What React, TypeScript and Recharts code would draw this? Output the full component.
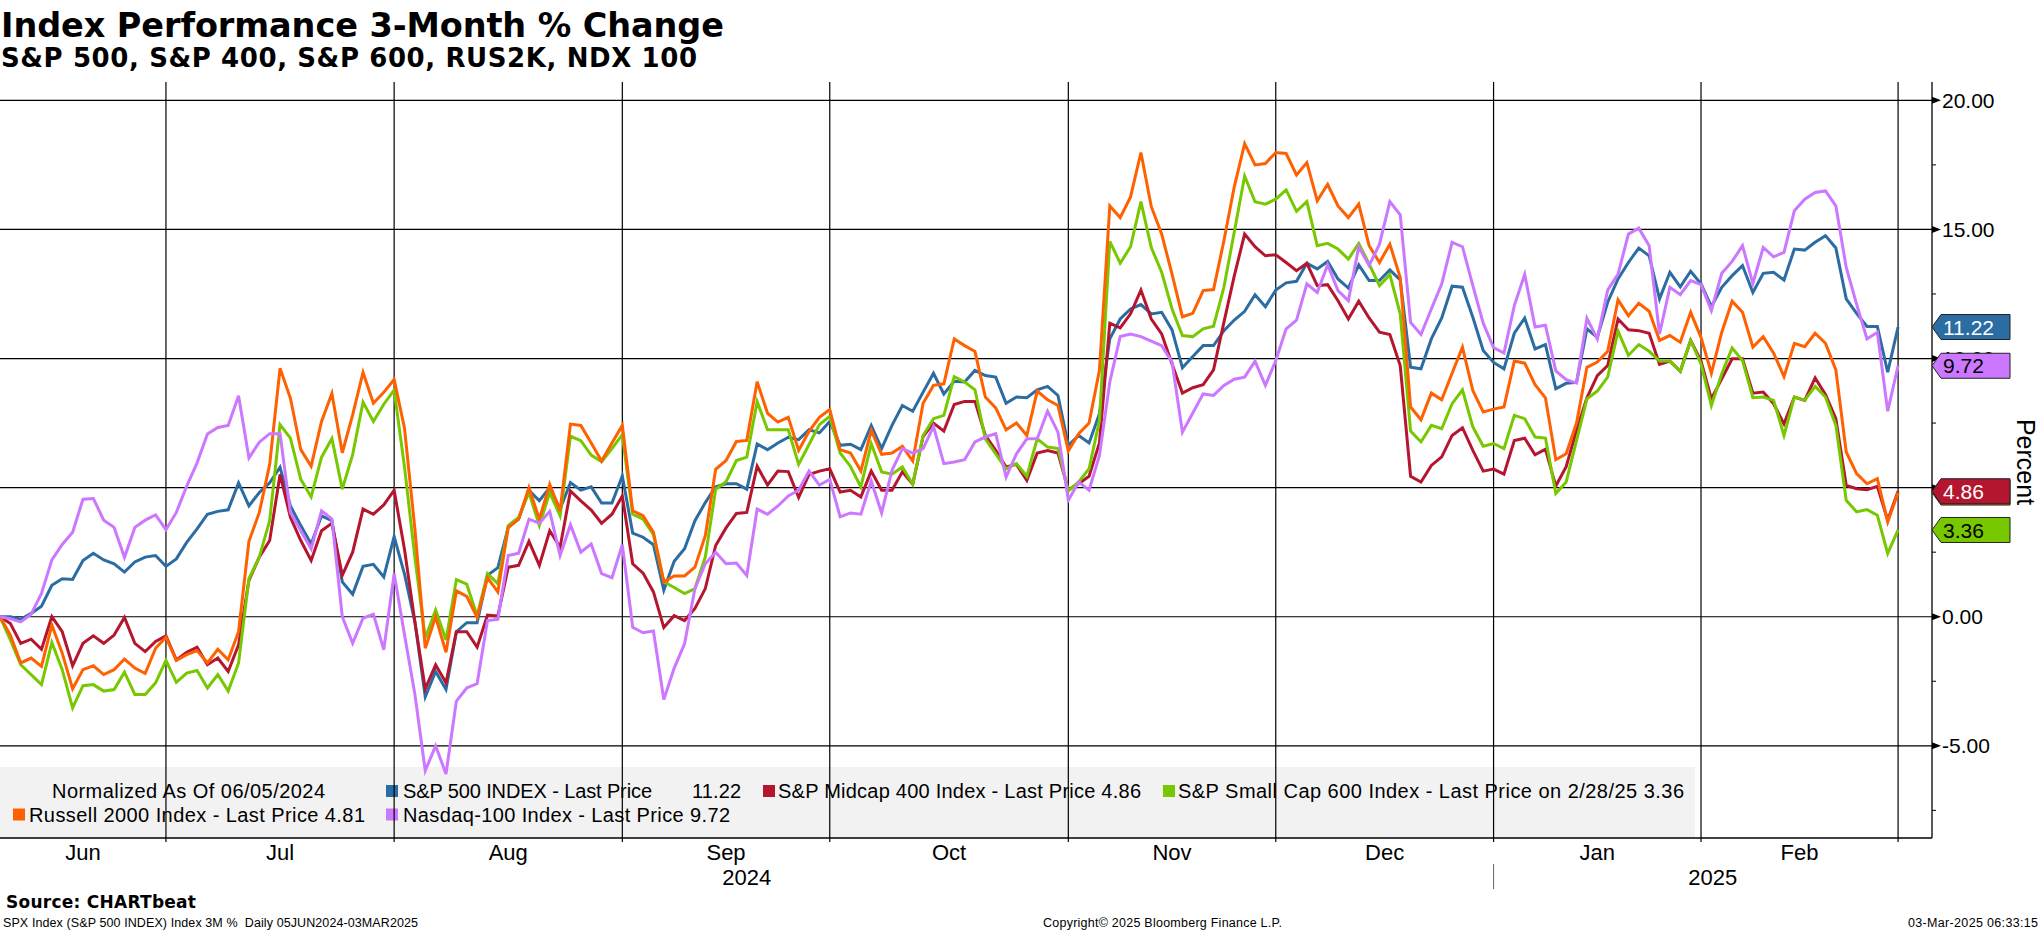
import React from "react";
import { LineChart, Line, XAxis, YAxis, ReferenceLine } from "recharts";

// 3-month % change, normalized as of 06/05/2024, one value per trading day (Jun 5 2024 .. Feb 28 2025)
const spx = [
  0, 0, -0.1, 0.13, 0.41, 1.22, 1.47, 1.44, 2.18, 2.46, 2.2, 2.05, 1.73, 2.12, 2.31, 2.37, 1.95,
  2.24, 2.88, 3.4, 3.97, 4.08, 4.14, 5.18, 4.29, 4.81, 5.19, 5.79, 4.29, 3.53, 2.82, 3.91, 3.72, 1.35, 0.87, 1.95, 2.03, 1.54, 3.1,
  1.65, -0.2, -3.1, -2.12, -2.82, -0.58, -0.23, -0.23, 1.6, 1.9, 3.46, 3.78, 4.9, 4.49, 5.0, 4.17, 5.19, 4.9, 5.03, 4.4, 4.4, 5.45,
  3.24, 3.08, 2.79, 1.03, 2.15, 2.63, 3.72, 4.42, 5.03, 5.15, 5.15, 4.94, 6.69, 6.47, 6.73, 6.95, 6.86, 7.24, 7.12, 7.56,
  6.64, 6.68, 6.47, 7.41, 6.51, 7.41, 8.18, 7.96, 8.7, 9.43, 8.63, 9.12, 9.09, 9.54, 9.34, 9.28, 8.27, 8.51, 8.48, 8.79, 8.92, 8.57, 6.64,
  7.02, 6.73, 7.86, 10.76, 11.53, 11.92, 12.09, 11.73, 11.79, 11.11, 9.64, 10.08, 10.5, 10.5, 11.08, 11.49, 11.83, 12.47, 12.01, 12.65,
  12.93, 12.99, 13.69, 13.47, 13.76, 13.08, 12.73, 13.63, 13.02, 13.02, 13.43, 13.04, 9.66, 9.6, 10.76, 11.57, 12.8, 12.76, 11.6, 10.31, 9.85,
  9.6, 10.98, 11.57, 10.37, 10.54, 8.83, 9.04, 9.08, 11.15, 10.82, 12.18, 13.08, 13.72, 14.28, 13.98, 12.31, 13.34, 12.78, 13.38, 12.89,
  12.01, 12.76, 13.21, 13.6, 12.56, 13.3, 13.34, 13.04, 14.24, 14.2, 14.5, 14.76, 14.28, 12.31, 11.75, 11.24, 11.24, 9.47, 11.22,
];

const mid = [
  0, -0.26, -1.03, -0.87, -1.26, 0, -0.58, -1.9, -1.03, -0.74, -1.03, -0.71, -0.03, -1.03, -1.35, -0.96, -0.74,
  -1.67, -1.38, -1.18, -1.86, -1.6, -2.12, -1.09, 1.41, 2.31, 2.95, 5.51, 3.85, 2.95, 2.18, 3.33, 3.62, 1.6, 2.5, 4.17, 3.97, 4.33, 4.9,
  2.6, -0.2, -2.79, -1.86, -2.56, -0.58, -0.58, -1.18, 0.06, 0.03, 1.92, 1.99, 2.92, 1.99, 3.33, 2.69, 4.87, 4.49, 4.13, 3.62, 3.97, 4.68,
  2.05, 1.69, 0.96, -0.42, 0.04, -0.15, 0.32, 1.09, 2.76, 3.44, 4.0, 4.04, 5.83, 5.1, 5.64, 5.62, 4.62, 5.51, 5.64, 5.73,
  4.83, 4.9, 4.64, 5.64, 4.9, 4.9, 5.61, 5.13, 6.98, 7.5, 7.19, 8.22, 8.34, 8.34, 7.02, 6.44, 5.8, 5.9, 5.28, 6.34, 6.44, 6.34, 4.92,
  5.15, 5.44, 6.73, 11.37, 11.19, 11.73, 12.65, 11.53, 10.95, 9.79, 8.66, 8.87, 8.99, 9.56, 11.4, 13.2, 14.82, 14.33, 13.98, 14.02,
  13.72, 13.4, 13.69, 12.82, 12.86, 12.24, 11.53, 12.22, 11.57, 11.02, 10.93, 9.73, 5.44, 5.22, 5.86, 6.19, 7.02, 7.32, 6.44, 5.64, 5.72,
  5.52, 6.82, 6.91, 6.27, 6.49, 5.06, 5.81, 7.22, 8.48, 9.34, 9.73, 11.53, 11.11, 11.08, 10.98, 9.77, 9.9, 9.51, 10.7, 9.9,
  8.44, 9.21, 9.99, 9.99, 8.66, 8.7, 8.25, 7.47, 8.51, 8.38, 9.25, 8.61, 7.67, 5.09, 4.96, 4.92, 5.05, 3.74, 4.86,
];

const small = [
  0, -0.9, -1.86, -2.24, -2.63, -1.0, -2.05, -3.53, -2.67, -2.63, -2.88, -2.82, -2.15, -3.01, -3.01, -2.56, -1.69,
  -2.54, -2.18, -2.08, -2.76, -2.24, -2.88, -1.79, 1.47, 2.31, 3.72, 7.44, 6.92, 5.32, 4.64, 6.18, 6.9, 4.94, 6.28, 8.31, 7.56, 8.23, 8.78,
  5.8, 2.3, -0.83, 0.26, -0.9, 1.44, 1.26, 0.03, 1.67, 1.28, 3.53, 3.85, 4.81, 3.53, 4.81, 3.91, 6.99, 6.82, 6.26, 6.0, 6.51, 7.05,
  3.97, 3.78, 3.18, 1.35, 1.13, 0.9, 1.09, 2.31, 4.94, 5.23, 6.05, 6.18, 8.33, 7.24, 7.24, 7.24, 5.9, 6.67, 7.44, 7.76,
  6.34, 5.82, 5.03, 6.7, 5.61, 5.52, 5.8, 5.13, 7.02, 7.67, 7.8, 9.3, 9.09, 8.79, 6.89, 6.31, 5.73, 5.93, 5.44, 6.89, 6.57, 6.51, 4.87,
  5.22, 5.73, 7.6, 14.54, 13.69, 14.33, 16.08, 14.3, 13.34, 11.92, 10.89, 10.85, 11.15, 11.25, 12.76, 14.9, 17.07, 16.07, 15.98, 16.17,
  16.53, 15.7, 16.08, 14.37, 14.46, 14.24, 13.85, 14.46, 13.66, 12.82, 13.25, 11.73, 7.19, 6.77, 7.41, 7.28, 8.25, 8.79, 7.35, 6.6, 6.71,
  6.51, 7.8, 7.67, 6.96, 6.92, 4.77, 5.22, 6.83, 8.44, 8.74, 9.28, 11.06, 10.12, 10.54, 10.28, 9.9, 9.9, 9.51, 10.7, 9.79,
  8.18, 9.41, 10.41, 9.92, 8.48, 8.51, 8.38, 7.02, 8.51, 8.38, 8.92, 8.51, 7.41, 4.51, 4.06, 4.15, 3.93, 2.45, 3.36,
];

const rus = [
  0, -0.71, -1.79, -1.6, -1.92, -0.32, -1.41, -2.79, -2.05, -1.9, -2.24, -2.05, -1.64, -1.99, -2.2, -1.22, -0.79,
  -1.69, -1.47, -1.31, -1.79, -1.26, -1.67, -0.58, 2.92, 4.04, 5.9, 9.62, 8.46, 6.47, 5.83, 7.56, 8.65, 6.35, 7.82, 9.46, 8.27, 8.69, 9.19,
  7.3, 3.4, -1.22, 0, -1.38, 1.0, 0.79, -0.03, 1.51, 0.96, 3.46, 3.78, 5.0, 3.78, 5.13, 4.1, 7.46, 7.41, 6.73, 6.03, 6.73, 7.41,
  4.1, 3.91, 3.27, 1.35, 1.58, 1.58, 1.92, 3.14, 5.71, 6.05, 6.79, 6.83, 9.1, 7.88, 7.54, 7.72, 6.44, 7.18, 7.72, 8.02,
  6.47, 6.34, 5.64, 7.22, 6.29, 6.34, 6.6, 6.03, 8.27, 8.96, 9.02, 10.76, 10.5, 10.27, 8.51, 8.09, 7.24, 7.5, 7.02, 8.74, 8.4, 8.18, 6.42,
  7.09, 7.5, 9.54, 15.91, 15.46, 16.26, 17.98, 15.88, 14.82, 13.27, 11.62, 11.75, 12.63, 12.67, 14.56, 16.65, 18.32, 17.5, 17.55, 17.98,
  17.94, 17.11, 17.59, 16.11, 16.75, 15.91, 15.46, 15.98, 14.37, 13.72, 14.43, 13.14, 8.12, 7.63, 8.66, 8.4, 9.43, 10.44, 8.76, 7.93, 8.04,
  8.12, 9.9, 9.82, 8.99, 8.48, 6.08, 6.31, 7.5, 9.66, 9.86, 10.28, 12.27, 11.66, 12.14, 11.83, 10.7, 10.89, 10.63, 11.79, 10.82,
  9.43, 11.02, 12.22, 11.79, 10.44, 10.85, 10.21, 9.3, 10.59, 10.46, 10.98, 10.59, 9.56, 6.38, 5.54, 5.15, 5.35, 3.67, 4.81,
];

const ndx = [
  0, -0.08, -0.2, 0.1, 0.9, 2.2, 2.8, 3.27, 4.55, 4.58, 3.74, 3.46, 2.3, 3.46, 3.74, 3.94, 3.37,
  4.04, 5.06, 5.96, 7.08, 7.33, 7.41, 8.56, 6.15, 6.76, 7.09, 7.09, 4.04, 3.33, 2.63, 4.1, 3.78, 0, -1.03, -0.06, 0.1, -1.28, 1.67,
  -0.7, -3.0, -5.96, -5.0, -6.09, -3.27, -2.76, -2.59, -0.15, -0.1, 2.37, 2.46, 3.78, 3.62, 4.08, 2.37, 3.56, 2.5, 2.82, 1.67, 1.51, 2.79,
  -0.41, -0.62, -0.55, -3.21, -1.99, -1.05, 1.09, 2.05, 2.5, 2.05, 2.08, 1.6, 4.17, 3.97, 4.29, 4.68, 4.9, 5.64, 5.1, 5.32,
  3.87, 4.02, 3.97, 5.26, 4.02, 5.67, 6.51, 6.34, 6.51, 7.37, 5.93, 5.99, 6.08, 6.77, 6.96, 7.09, 5.41, 6.31, 6.89, 6.89, 7.96, 7.15, 4.51,
  5.22, 4.9, 6.25, 9.09, 10.85, 10.95, 10.85, 10.67, 10.5, 9.86, 7.15, 7.89, 8.63, 8.57, 8.96, 9.2, 9.28, 9.9, 8.96, 9.92,
  11.15, 11.49, 12.89, 12.56, 13.63, 12.63, 12.24, 14.33, 13.6, 14.43, 16.08, 15.57, 11.4, 10.93, 11.92, 12.89, 14.5, 14.33, 12.82, 11.37, 10.42,
  10.21, 12.05, 13.26, 11.22, 11.29, 9.52, 9.18, 9.05, 11.56, 10.76, 12.65, 13.27, 14.82, 15.05, 14.37, 10.95, 12.76, 12.47, 13.02, 12.86,
  11.86, 13.3, 13.76, 14.37, 12.91, 14.3, 13.94, 14.11, 15.72, 16.17, 16.43, 16.49, 15.91, 13.53, 12.11, 10.76, 11.02, 7.96, 9.72,
];

// trading-day index of the last session of each month (Jun 2024 .. Feb 2025)
const monthEnds = [16, 38, 60, 80, 103, 123, 144, 164, 183];
const monthNames = ["Jun", "Jul", "Aug", "Sep", "Oct", "Nov", "Dec", "Jan", "Feb"];
const yearNames = ["2024", "2025"];
const yearBreak = 144;
const xMax = 186.27;
const yMin = -8.57;
const yMax = 20.71;
const yTicks = [-5, 0, 5, 10, 15, 20];
const yMinor = [-7.5, -2.5, 2.5, 7.5, 12.5, 17.5];

const monthMid = monthEnds.map((e, k) => ((k === 0 ? 0 : monthEnds[k - 1]) + e) / 2);
const yearMid = [yearBreak / 2, (yearBreak + xMax) / 2];
const xTicks = [...monthEnds, ...monthMid, ...yearMid].sort((a, b) => a - b);

const W = 2041;
const H = 932;
const FONT = "'Liberation Sans', Arial, sans-serif";
const BOLD = "'DejaVu Sans', Verdana, sans-serif";

const series = [
  { key: "spx", color: "#2b6ca3", ink: "#fff", values: spx },
  { key: "mid", color: "#b5162f", ink: "#fff", values: mid },
  { key: "small", color: "#77c800", ink: "#000", values: small },
  { key: "rus", color: "#ff6000", ink: "#fff", values: rus },
  { key: "ndx", color: "#cc77ff", ink: "#000", values: ndx },
];
// last-value tags on the right axis, drawn after the axis labels (later ones on top)
const tagOrder = ["rus", "mid", "spx", "ndx", "small"];
const tagSeries = tagOrder.map((k) => series.find((s) => s.key === k)!);
const tagValues = tagSeries.map((s) => s.values[s.values.length - 1]);
const yAllTicks = [...[...yTicks, ...yMinor].sort((a, b) => a - b), ...tagValues];

const rows = spx.map((v, i) => ({ i, spx: v, mid: mid[i], small: small[i], rus: rus[i], ndx: ndx[i] }));

const last = (k: string) => {
  const s = series.find((d) => d.key === k)!;
  return s.values[s.values.length - 1].toFixed(2);
};

const legendItems = [
  { key: "spx", row: 0, sq: 386, tx: 403, tw: 249, label: "S&P 500 INDEX - Last Price" },
  { key: "mid", row: 0, sq: 763, tx: 778, tw: 363, label: `S&P Midcap 400 Index - Last Price ${last("mid")}` },
  { key: "small", row: 0, sq: 1163, tx: 1178, tw: 506, label: `S&P Small Cap 600 Index - Last Price on 2/28/25 ${last("small")}` },
  { key: "rus", row: 1, sq: 13, tx: 29, tw: 336, label: `Russell 2000 Index - Last Price ${last("rus")}` },
  { key: "ndx", row: 1, sq: 386, tx: 403, tw: 327, label: `Nasdaq-100 Index - Last Price ${last("ndx")}` },
];

function XTick(props: any) {
  const { x, y, payload } = props;
  const v = payload.value;
  const mi = monthMid.indexOf(v);
  const yi = yearMid.indexOf(v);
  if (mi >= 0) {
    return (
      <text x={x} y={y + 22} textAnchor="middle" fontFamily={FONT} fontSize={22} fill="#000">
        {monthNames[mi]}
      </text>
    );
  }
  if (yi >= 0) {
    return (
      <text x={x} y={y + 47} textAnchor="middle" fontFamily={FONT} fontSize={22} fill="#000">
        {yearNames[yi]}
      </text>
    );
  }
  return (
    <g>
      <line x1={x} x2={x} y1={y} y2={y + 4} stroke="#000" strokeWidth={1.2} />
      {v === yearBreak && <line x1={x} x2={x} y1={y + 26} y2={y + 51} stroke="#666" strokeWidth={1} />}
    </g>
  );
}

function Tag({ x, y, fill, ink, text }: any) {
  const h = 12.5;
  const w = 78;
  return (
    <g>
      <polygon
        points={`${x},${y} ${x + 9},${y - h} ${x + w},${y - h} ${x + w},${y + h} ${x + 9},${y + h}`}
        fill={fill}
        stroke="#222"
        strokeWidth={1}
      />
      <text x={x + 11} y={y} dy="0.36em" fontFamily={FONT} fontSize={21} fill={ink}>
        {text}
      </text>
    </g>
  );
}

function YTick(props: any) {
  const { x, y, payload } = props;
  const v = payload.value;
  const t = tagValues.indexOf(v);
  if (t >= 0) {
    const s = tagSeries[t];
    return <Tag x={x} y={y} fill={s.color} ink={s.ink} text={v.toFixed(2)} />;
  }
  if (yTicks.includes(v)) {
    return (
      <g>
        <polygon points={`${x},${y - 3.5} ${x + 9},${y} ${x},${y + 3.5}`} fill="#000" />
        <text x={x + 10} y={y} dy="0.36em" fontFamily={FONT} fontSize={21} fill="#000">
          {v.toFixed(2)}
        </text>
      </g>
    );
  }
  return <line x1={x} x2={x + 4} y1={y} y2={y} stroke="#000" strokeWidth={1} />;
}

export default function App() {
  const color = (k: string) => series.find((s) => s.key === k)!.color;
  return (
    <div style={{ position: "relative", width: W, height: H, background: "#fff", overflow: "hidden" }}>
      <style>{"body{margin:0}"}</style>
      <svg width={W} height={H} style={{ position: "absolute", left: 0, top: 0 }}>
        <text x={1} y={37} fontFamily={BOLD} fontWeight="bold" fontSize={33.5} textLength={723} fill="#000">
          Index Performance 3-Month % Change
        </text>
        <text x={1} y={67} fontFamily={BOLD} fontWeight="bold" fontSize={26} textLength={696} fill="#000">
          {"S&P 500, S&P 400, S&P 600, RUS2K, NDX 100"}
        </text>

        <rect x={0} y={767} width={1695} height={71} fill="#f2f2f2" />
        <text x={52} y={797.5} fontFamily={FONT} fontSize={20} textLength={273} fill="#000">
          Normalized As Of 06/05/2024
        </text>
        {legendItems.map((it) => (
          <g key={it.key}>
            <rect x={it.sq} y={785 + it.row * 23.5} width={12} height={12} fill={color(it.key)} />
            <text x={it.tx} y={797.5 + it.row * 24} fontFamily={FONT} fontSize={20} textLength={it.tw} fill="#000">
              {it.label}
            </text>
          </g>
        ))}
        <text x={692} y={797.5} fontFamily={FONT} fontSize={20} textLength={49} fill="#000">
          {last("spx")}
        </text>

        <text transform="translate(2017,462) rotate(90)" textAnchor="middle" fontFamily={FONT} fontSize={25} fill="#000">
          Percent
        </text>

        <text x={6} y={908} fontFamily={BOLD} fontWeight="bold" fontSize={17} textLength={190} fill="#000">
          Source: CHARTbeat
        </text>
        <text x={3} y={927} fontFamily={FONT} fontSize={12.5} textLength={415} fill="#000" style={{ whiteSpace: "pre" }}>
          {"SPX Index (S&P 500 INDEX) Index 3M %  Daily 05JUN2024-03MAR2025"}
        </text>
        <text x={1043} y={927} fontFamily={FONT} fontSize={12.5} textLength={239} fill="#000">
          Copyright© 2025 Bloomberg Finance L.P.
        </text>
        <text x={1908} y={927} fontFamily={FONT} fontSize={12.5} textLength={130} fill="#000">
          03-Mar-2025 06:33:15
        </text>
      </svg>

      <div style={{ position: "absolute", left: 0, top: 0 }}>
        <LineChart width={W} height={H} data={rows} margin={{ top: 82, right: 0, bottom: 0, left: 0 }}>
          <XAxis
            dataKey="i"
            type="number"
            domain={[0, xMax]}
            ticks={xTicks}
            interval={0}
            tick={<XTick />}
            tickLine={false}
            tickSize={0}
            tickMargin={0}
            height={94}
            axisLine={{ stroke: "#000", strokeWidth: 1.3 }}
            allowDataOverflow
          />
          <YAxis
            orientation="right"
            type="number"
            domain={[yMin, yMax]}
            ticks={yAllTicks}
            interval={0}
            tick={<YTick />}
            tickLine={false}
            tickSize={0}
            tickMargin={0}
            width={109}
            axisLine={{ stroke: "#000", strokeWidth: 1.3 }}
            allowDataOverflow
          />
          {yTicks.map((v) => (
            <ReferenceLine key={"h" + v} y={v} stroke="#000" strokeWidth={1.2} />
          ))}
          {monthEnds.map((i) => (
            <ReferenceLine key={"v" + i} x={i} stroke="#000" strokeWidth={1.2} />
          ))}
          {series.map((s) => (
            <Line
              key={s.key}
              type="linear"
              dataKey={s.key}
              stroke={s.color}
              strokeWidth={3}
              dot={false}
              activeDot={false}
              isAnimationActive={false}
            />
          ))}
        </LineChart>
      </div>
    </div>
  );
}
